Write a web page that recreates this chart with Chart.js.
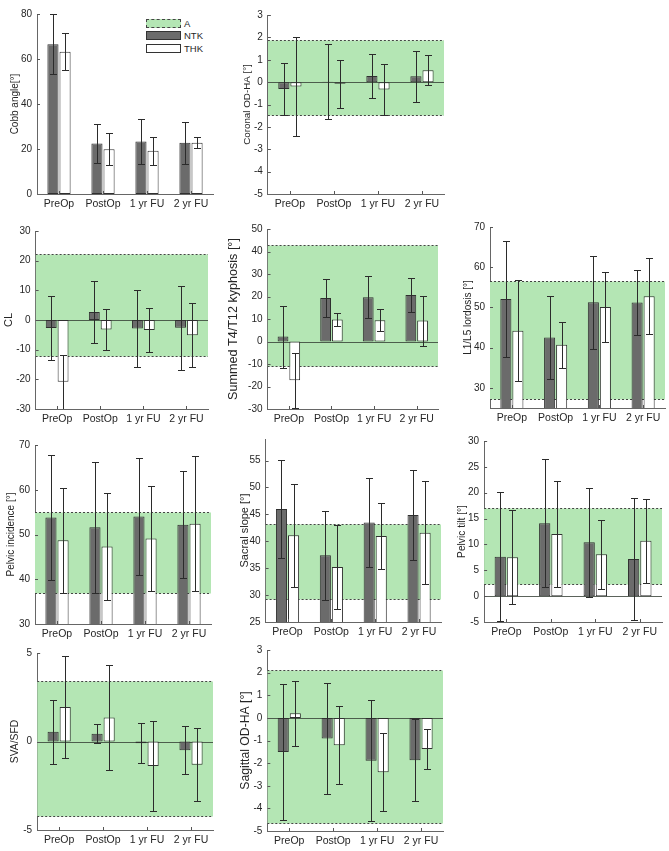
<!DOCTYPE html>
<html>
<head>
<meta charset="utf-8">
<script src="https://cdn.jsdelivr.net/npm/chart.js@4.4.0/dist/chart.umd.min.js"></script>
<style>
body { margin: 0; background: #fff; font-family: "Liberation Sans", Arial, sans-serif; }
#wrap { position: relative; width: 669px; height: 851px; overflow: hidden; }
#wrap canvas { position: absolute; }
.sw { position: absolute; width: 35px; height: 9px; box-sizing: border-box; }
.lt { position: absolute; font-size: 9.5px; color: #262626; line-height: 10px; }
</style>
</head>
<body>
<div id="wrap">
  <div class="sw" style="left:146px;top:19px;background:#b4e6b4;border:1px dashed #444"></div>
  <div class="lt" style="left:184px;top:19px">A</div>
  <div class="sw" style="left:146px;top:31px;background:#6b6b6b;border:1px solid #333"></div>
  <div class="lt" style="left:184px;top:31px">NTK</div>
  <div class="sw" style="left:146px;top:44px;background:#fff;border:1px solid #333"></div>
  <div class="lt" style="left:184px;top:44px">THK</div>
</div>
<script>
// categories and series
const groups = ['PreOp', 'PostOp', '1 yr FU', '2 yr FU']
const seriesNames = ['NTK', 'THK']
const yTitles = ['Cobb angle[°]', 'Coronal OD-HA [°]', 'CL', 'Summed T4/T12 kyphosis [°]', 'L1/L5 lordosis [°]',
    'Pelvic incidence [°]', 'Sacral slope [°]', 'Pelvic tilt [°]', 'SVA/SFD', 'Sagittal OD-HA [°]']

// mean and SD per panel (rows follow yTitles)
const ntkMean = [
    [66.6, 22.4, 23.3, 22.8],
    [-0.31, 0.02, 0.27, 0.26],
    [-2.7, 2.7, -2.9, -2.6],
    [2.2, 19.3, 19.7, 20.7],
    [52.1, 42.5, 51.3, 51.2],
    [53.8, 51.6, 54.0, 52.2],
    [46.0, 37.4, 43.5, 44.9],
    [7.6, 14.1, 10.4, 7.2],
    [0.55, 0.44, -0.1, -0.5],
    [-1.51, -0.91, -1.9, -1.87]
]
const ntkSd = [
    [13.3, 8.7, 10.0, 9.3],
    [1.16, 1.67, 1.0, 1.13],
    [10.8, 10.6, 13.0, 14.2],
    [13.8, 8.4, 9.4, 7.6],
    [14.3, 10.3, 11.6, 8.1],
    [14.0, 14.6, 13.1, 12.0],
    [9.1, 8.3, 8.3, 8.4],
    [12.5, 12.4, 10.5, 11.8],
    [1.8, 0.53, 1.13, 1.35],
    [2.99, 2.46, 2.67, 1.82]
]
const thkMean = [
    [63.2, 19.9, 19.2, 22.8],
    [-0.2, -0.07, -0.33, 0.53],
    [-20.8, -3.2, -3.4, -5.1],
    [-17.2, 9.8, 9.5, 9.3],
    [44.2, 40.7, 50.1, 52.8],
    [48.7, 47.3, 49.1, 52.4],
    [41.1, 35.2, 41.0, 41.6],
    [7.5, 12.0, 8.1, 10.7],
    [1.95, 1.36, -1.38, -1.31],
    [0.2, -1.21, -2.4, -1.38]
]
const thkSd = [
    [8.3, 7.2, 6.2, 2.4],
    [2.2, 1.08, 1.12, 0.66],
    [9.1, 7.0, 7.5, 10.9],
    [12.2, 2.7, 5.0, 11.1],
    [12.6, 5.8, 8.7, 9.5],
    [11.7, 11.9, 11.8, 15.1],
    [9.6, 7.8, 6.2, 9.6],
    [9.1, 10.2, 6.7, 8.1],
    [2.9, 2.98, 2.54, 2.06],
    [1.43, 1.73, 1.73, 0.87]
]

// normal range band (A)
const bandLow = [null, -1.48, -12.0, -10.9, 27.3, 37.0, 29.2, 2.4, -4.2, -4.64]
const bandHigh = [null, 1.9, 22.2, 42.8, 56.5, 55.1, 43.3, 17.1, 3.4, 2.1]

// axes
const yMin = [0, -5, -30, -30, 25, 30, 25, -5, -5, -5]
const yMax = [80, 3, 30, 50, 70, 70, 59, 30, 5, 3]
const yTicks = [
    [0, 20, 40, 60, 80],
    [-5, -4, -3, -2, -1, 0, 1, 2, 3],
    [-30, -20, -10, 0, 10, 20, 30],
    [-30, -20, -10, 0, 10, 20, 30, 40, 50],
    [30, 40, 50, 60, 70],
    [30, 40, 50, 60, 70],
    [25, 30, 35, 40, 45, 50, 55],
    [-5, 0, 5, 10, 15, 20, 25, 30],
    [-5, 0, 5],
    [-5, -4, -3, -2, -1, 0, 1, 2, 3]
]

// plot area boxes: left, top, right, bottom, title distance, title font size
const boxes = [
    [37, 8, 213, 194, 22, 10],
    [268, 9, 444, 194, 21, 9.8],
    [36, 225, 208, 409, 27, 11],
    [268, 223, 438, 409, 34, 12.6],
    [490, 221, 665, 408, 22, 10],
    [35, 439, 211, 624, 24, 10],
    [266, 433, 441, 622, 21, 11],
    [484, 435, 662, 622, 22, 10.2],
    [37, 647, 213, 830, 22, 10.3],
    [267, 644, 443, 831, 22, 12.2]
]

const txt = '#262626'
const font = 'Liberation Sans, Arial, sans-serif'

const decor = {
    id: 'decor',
    beforeDatasetsDraw(chart, args, opts) {
        const ctx = chart.ctx
        const a = chart.chartArea
        const y = chart.scales.y
        ctx.save()
        ctx.beginPath()
        ctx.rect(a.left, a.top, a.width, a.height)
        ctx.clip()
        if (opts.low != null) {
            const y1 = Math.round(y.getPixelForValue(opts.high)) + 0.5
            const y2 = Math.round(y.getPixelForValue(opts.low)) + 0.5
            ctx.fillStyle = '#b4e6b4'
            ctx.fillRect(a.left, y1, a.width, y2 - y1)
            ctx.strokeStyle = '#444'
            ctx.lineWidth = 1
            ctx.setLineDash([2, 2])
            for (const yy of [y1, y2]) {
                ctx.beginPath()
                ctx.moveTo(a.left, yy)
                ctx.lineTo(a.right, yy)
                ctx.stroke()
            }
            ctx.setLineDash([])
        }
        if (y.min < 0) {
            const y0 = Math.round(y.getPixelForValue(0)) + 0.5
            ctx.strokeStyle = 'rgba(50,60,50,0.8)'
            ctx.lineWidth = 1
            ctx.beginPath()
            ctx.moveTo(a.left, y0)
            ctx.lineTo(a.right, y0)
            ctx.stroke()
        }
        ctx.restore()
    },
    afterDatasetsDraw(chart) {
        const ctx = chart.ctx
        const a = chart.chartArea
        const y = chart.scales.y
        const x = chart.scales.x
        ctx.save()
        ctx.beginPath()
        ctx.rect(a.left, a.top - 1, a.width + 1, a.height + 1)
        ctx.clip()
        ctx.strokeStyle = '#2b2b2b'
        ctx.lineWidth = 1
        chart.data.datasets.forEach((ds, di) => {
            const meta = chart.getDatasetMeta(di)
            meta.data.forEach((bar, j) => {
                const px = Math.round(bar.x) + 0.5
                const hi = Math.round(y.getPixelForValue(ds.data[j] + ds.errors[j])) + 0.5
                const lo = Math.round(y.getPixelForValue(ds.data[j] - ds.errors[j])) + 0.5
                ctx.beginPath()
                ctx.moveTo(px, hi)
                ctx.lineTo(px, lo)
                ctx.moveTo(px - 3.5, hi)
                ctx.lineTo(px + 3.5, hi)
                ctx.moveTo(px - 3.5, lo)
                ctx.lineTo(px + 3.5, lo)
                ctx.stroke()
            })
        })
        // inward tick marks
        ctx.strokeStyle = '#555'
        ctx.beginPath()
        y.ticks.forEach(t => {
            const py = Math.round(y.getPixelForValue(t.value)) + 0.5
            ctx.moveTo(a.left, py)
            ctx.lineTo(a.left + 3, py)
        })
        groups.forEach((g, j) => {
            const px = Math.round(x.getPixelForValue(j)) + 0.5
            ctx.moveTo(px, a.bottom)
            ctx.lineTo(px, a.bottom - 3)
        })
        ctx.stroke()
        ctx.restore()
    }
}

const wrap = document.getElementById('wrap')

boxes.forEach((b, i) => {
    const [L, T, R, B, d, tf] = b
    const W = d + tf * 0.6
    const H = 20
    const padTop = 5
    const padRight = 3
    const cw = Math.round(R - L + W + padRight)
    const ch = B - T + padTop + H
    const canvas = document.createElement('canvas')
    canvas.width = cw
    canvas.height = ch
    canvas.style.left = Math.round(L - W) + 'px'
    canvas.style.top = (T - padTop) + 'px'
    canvas.style.width = cw + 'px'
    canvas.style.height = ch + 'px'
    wrap.appendChild(canvas)

    new Chart(canvas.getContext('2d'), {
        type: 'bar',
        data: {
            labels: groups,
            datasets: [{
                label: seriesNames[0],
                data: ntkMean[i],
                errors: ntkSd[i],
                backgroundColor: '#6b6b6b',
                borderColor: '#303030',
                borderWidth: 1,
                borderSkipped: false
            }, {
                label: seriesNames[1],
                data: thkMean[i],
                errors: thkSd[i],
                backgroundColor: '#ffffff',
                borderColor: '#303030',
                borderWidth: 1,
                borderSkipped: false
            }]
        },
        options: {
            responsive: false,
            animation: false,
            devicePixelRatio: 1,
            layout: { padding: { left: 0, top: padTop, right: padRight, bottom: 0 } },
            datasets: { bar: { categoryPercentage: 0.55, barPercentage: 0.92 } },
            plugins: {
                legend: { display: false },
                tooltip: { enabled: false },
                decor: { low: bandLow[i], high: bandHigh[i] }
            },
            scales: {
                x: {
                    type: 'category',
                    offset: true,
                    grid: { display: false, drawTicks: false },
                    border: { display: true, color: '#666', width: 1 },
                    ticks: { color: txt, font: { family: font, size: 10.5 }, padding: 4, maxRotation: 0, autoSkip: false },
                    afterFit: s => { s.height = H }
                },
                y: {
                    min: yMin[i],
                    max: yMax[i],
                    grid: { display: false, drawTicks: false },
                    border: { display: true, color: '#666', width: 1 },
                    afterBuildTicks: s => { s.ticks = yTicks[i].map(v => ({ value: v })) },
                    ticks: { color: txt, font: { family: font, size: 10 }, padding: 5 },
                    title: { display: true, text: yTitles[i], color: txt, font: { family: font, size: tf }, padding: 0 },
                    afterFit: s => { s.width = W }
                }
            }
        },
        plugins: [decor]
    })
})
</script>
</body>
</html>
